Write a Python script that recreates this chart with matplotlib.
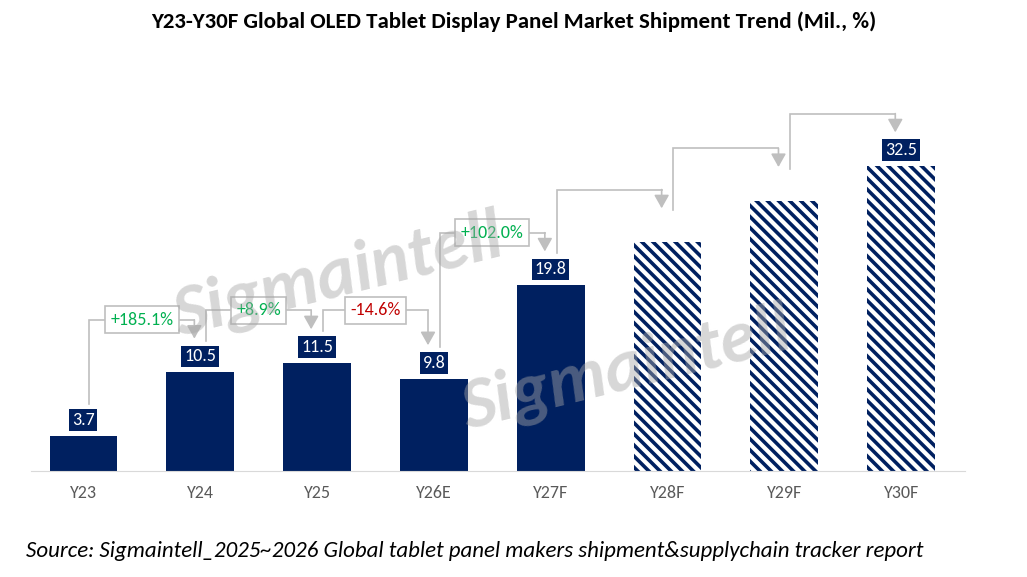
import matplotlib.pyplot as plt

years = ["Y23", "Y24", "Y25", "Y26E", "Y27F", "Y28F", "Y29F", "Y30F"]
values = [3.7, 10.5, 11.5, 9.8, 19.8, 24.4, 28.8, 32.5]
show_label = [True, True, True, True, True, False, False, True]
forecast = [False, False, False, False, False, True, True, True]
growth = ["+185.1%", "+8.9%", "-14.6%", "+102.0%", None, None, None]

navy = "#002060"
grey = "#BFBFBF"
plt.rcParams["font.family"] = ["Calibri", "Carlito", "Liberation Sans", "DejaVu Sans"]
plt.rcParams["hatch.linewidth"] = 2.6

fig = plt.figure(figsize=(10.27, 5.77), dpi=100)
ax = fig.add_axes([0.03, 0.184, 0.91, 0.65])
x = list(range(len(years)))

for i, v in enumerate(values):
    if forecast[i]:
        ax.bar(i, v, 0.58, facecolor="white", edgecolor=navy, hatch="\\\\\\", linewidth=0)
    else:
        ax.bar(i, v, 0.58, color=navy)
    if show_label[i]:
        ax.text(i, v + 1.7, f"{v:.1f}", ha="center", va="center", color="white", fontsize=13,
                bbox=dict(boxstyle="square,pad=0.15", fc=navy, ec="none"))

# elbow connectors
for i in range(len(values) - 1):
    x0, x1 = i + 0.05, i + 0.95
    y0 = values[i] + 3.4
    lvl = max(values[i], values[i + 1]) + 5.6
    y1 = values[i + 1] + 3.6
    ax.plot([x0, x0, x1], [y0, lvl, lvl], color=grey, lw=1.2, solid_joinstyle="miter")
    ax.annotate("", xy=(x1, y1), xytext=(x1, lvl),
                arrowprops=dict(arrowstyle="-|>,head_length=0.8,head_width=0.45", color=grey, lw=1.2,
                                shrinkA=0, shrinkB=0))
    g = growth[i]
    if g:
        col = "#C00000" if g.startswith("-") else "#00B050"
        ax.text((x0 + x1) / 2, lvl, g, ha="center", va="center", color=col, fontsize=13,
                bbox=dict(boxstyle="square,pad=0.3", fc="white", ec=grey, lw=1.2))

ax.set_xlim(-0.45, 7.55)
ax.set_ylim(0, 40)
ax.set_xticks(x)
ax.set_xticklabels(years, color="#595959", fontsize=13)
ax.tick_params(axis="x", length=0, pad=10)
ax.set_yticks([])
for s in ["top", "left", "right"]:
    ax.spines[s].set_visible(False)
ax.spines["bottom"].set_color("#D9D9D9")

for wx, wy in [(0.33, 0.52), (0.61, 0.36)]:
    fig.text(wx, wy, "Sigmaintell", fontsize=52, fontweight="bold", color="#A6A6A6", alpha=0.45,
             rotation=14, ha="center", va="center", style="italic")

fig.text(0.5, 0.962, "Y23-Y30F Global OLED Tablet Display Panel Market Shipment Trend (Mil., %)",
         ha="center", va="center", fontsize=16.5, fontweight="bold")
fig.text(0.025, 0.045, "Source: Sigmaintell_2025~2026 Global tablet panel makers shipment&supplychain tracker report",
         ha="left", va="center", fontsize=16.5, style="italic")

fig.savefig("out.png", dpi=100)
